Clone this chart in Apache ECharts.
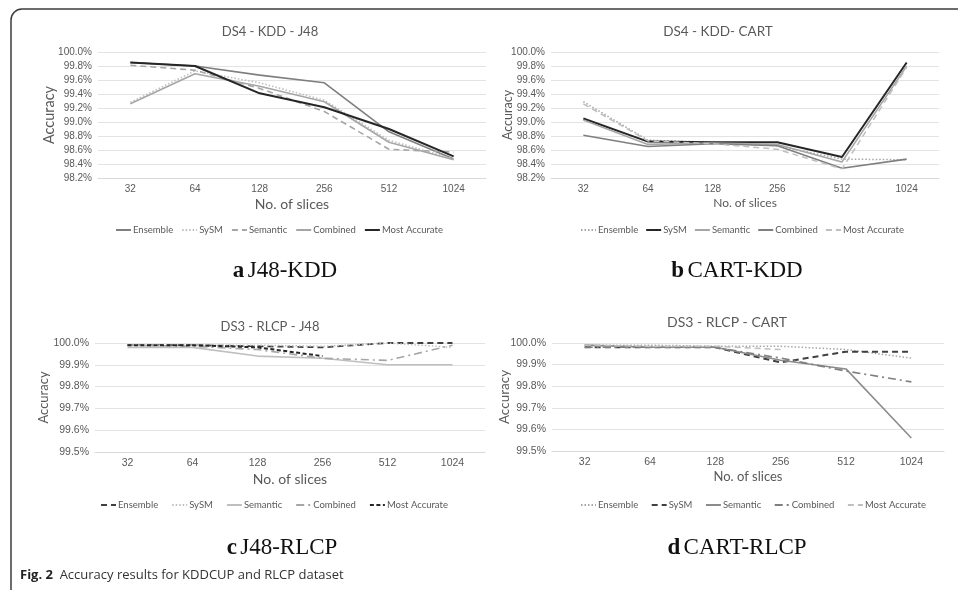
<!DOCTYPE html>
<html><head><meta charset="utf-8">
<script src="https://cdn.jsdelivr.net/npm/echarts@6/dist/echarts.min.js"></script>
<style>html,body{margin:0;padding:0;background:#fff}#c{width:958px;height:590px}</style>
</head><body><div id="c"></div>
<script>
// ---------- DATA ----------
const categories = ['32', '64', '128', '256', '512', '1024'];
const seriesNames = ['Ensemble', 'SySM', 'Semantic', 'Combined', 'Most Accurate'];

const kddTicks = [98.2, 98.4, 98.6, 98.8, 99.0, 99.2, 99.4, 99.6, 99.8, 100.0];
const rlcpTicks = [99.5, 99.6, 99.7, 99.8, 99.9, 100.0];

// (a) DS4 - KDD - J48
const kddJ48Ensemble     = [99.85, 99.80, 99.67, 99.56, 98.86, 98.47];
const kddJ48SySM         = [99.28, 99.73, 99.56, 99.31, 98.74, 98.47];
const kddJ48Semantic     = [99.81, 99.74, 99.48, 99.15, 98.61, 98.57];
const kddJ48Combined     = [99.26, 99.69, 99.51, 99.29, 98.71, 98.46];
const kddJ48MostAccurate = [99.85, 99.80, 99.41, 99.21, 98.90, 98.51];

// (b) DS4 - KDD- CART
const kddCartEnsemble     = [99.29, 98.74, 98.71, 98.66, 98.47, 98.46];
const kddCartSySM         = [99.05, 98.72, 98.71, 98.71, 98.50, 99.85];
const kddCartSemantic     = [99.03, 98.68, 98.70, 98.68, 98.43, 99.80];
const kddCartCombined     = [98.81, 98.65, 98.69, 98.66, 98.34, 98.47];
const kddCartMostAccurate = [99.26, 98.73, 98.69, 98.61, 98.33, 99.78];

// (c) DS3 - RLCP - J48  (Most Accurate has no values for 512 / 1024)
const rlcpJ48Ensemble     = [99.99, 99.99, 99.985, 99.98, 100.0, 100.0];
const rlcpJ48SySM         = [99.99, 99.99, 99.99, 99.985, 100.0, 99.98];
const rlcpJ48Semantic     = [99.98, 99.98, 99.94, 99.93, 99.90, 99.90];
const rlcpJ48Combined     = [99.99, 99.985, 99.97, 99.93, 99.92, 99.99];
const rlcpJ48MostAccurate = [99.99, 99.99, 99.98, 99.94, null, null];

// (d) DS3 - RLCP - CART  (Most Accurate has no values for 512 / 1024)
const rlcpCartEnsemble     = [99.99, 99.99, 99.985, 99.985, 99.97, 99.93];
const rlcpCartSySM         = [99.98, 99.98, 99.98, 99.91, 99.96, 99.96];
const rlcpCartSemantic     = [99.99, 99.98, 99.98, 99.92, 99.88, 99.56];
const rlcpCartCombined     = [99.98, 99.98, 99.98, 99.93, 99.87, 99.82];
const rlcpCartMostAccurate = [99.99, 99.985, 99.985, 99.97, null, null];

const panelTitles = ['DS4 - KDD - J48', 'DS4 - KDD- CART', 'DS3 - RLCP - J48', 'DS3 - RLCP - CART'];
const captionLetters = ['a', 'b', 'c', 'd'];
const captionTexts = ['J48-KDD', 'CART-KDD', 'J48-RLCP', 'CART-RLCP'];
const figLabel = 'Fig. 2';
const figText = 'Accuracy results for KDDCUP and RLCP dataset';
const yName = 'Accuracy';
const xName = 'No. of slices';

// ---------- LAYOUT / STYLE ----------
const panelData = [
  [kddJ48Ensemble, kddJ48SySM, kddJ48Semantic, kddJ48Combined, kddJ48MostAccurate],
  [kddCartEnsemble, kddCartSySM, kddCartSemantic, kddCartCombined, kddCartMostAccurate],
  [rlcpJ48Ensemble, rlcpJ48SySM, rlcpJ48Semantic, rlcpJ48Combined, rlcpJ48MostAccurate],
  [rlcpCartEnsemble, rlcpCartSySM, rlcpCartSemantic, rlcpCartCombined, rlcpCartMostAccurate]
];
const panelTicks = [kddTicks, kddTicks, rlcpTicks, rlcpTicks];

const DOT = [1.5, 2];
const DASH = [6, 4];
const SDASH = [4, 2.5];
const DASHDOT = [8, 4, 2, 4];
const panelStyles = [
  [ {c:'#7f7f7f', w:1.6, t:'solid'}, {c:'#bfbfbf', w:1.6, t:DOT}, {c:'#a6a6a6', w:1.6, t:DASH}, {c:'#a6a6a6', w:1.6, t:'solid'}, {c:'#262626', w:2, t:'solid'} ],
  [ {c:'#a6a6a6', w:1.5, t:DOT}, {c:'#262626', w:2, t:'solid'}, {c:'#a6a6a6', w:1.6, t:'solid'}, {c:'#7f7f7f', w:1.6, t:'solid'}, {c:'#bfbfbf', w:1.5, t:DASH} ],
  [ {c:'#404040', w:1.8, t:DASH}, {c:'#bfbfbf', w:1.5, t:DOT}, {c:'#bfbfbf', w:1.6, t:'solid'}, {c:'#a6a6a6', w:1.6, t:DASHDOT}, {c:'#262626', w:2, t:SDASH} ],
  [ {c:'#a6a6a6', w:1.5, t:DOT}, {c:'#404040', w:2, t:DASH}, {c:'#8c8c8c', w:1.6, t:'solid'}, {c:'#7f7f7f', w:1.6, t:DASHDOT}, {c:'#bfbfbf', w:1.5, t:DASH} ]
];

const grids = [
  {left: 98, top: 52, width: 388, height: 126},
  {left: 551, top: 52, width: 388, height: 126},
  {left: 95, top: 343, width: 390, height: 109},
  {left: 552, top: 343, width: 392, height: 108}
];
const tickFont = [10, 10, 10.5, 10.5];
const yNameFont = [14.5, 12.5, 13, 13.5];
const yNameGap = [41, 37, 45, 40];
const xNameFont = [14, 12, 14, 13];
const xNameGap = [19, 19, 20, 19];
const titlePos = [[270, 32, 13], [718, 32, 13.5], [270, 327, 13], [727, 322, 14]];
const legendPos = [[115, 225, 8], [580, 225, 7], [100, 500, 13], [580, 500, 12.5]];
const captionPos = [[285, 271], [737, 271], [282, 548], [737, 548]];

const ZW = '\u200b';
const GRAY = '#595959';

const series = [];
const legends = [];
panelData.forEach((arrs, p) => {
  const names = [];
  arrs.forEach((d, i) => {
    const st = panelStyles[p][i];
    const nm = seriesNames[i] + ZW.repeat(p);
    names.push(nm);
    series.push({
      type: 'line', name: nm, xAxisIndex: p, yAxisIndex: p, data: d,
      symbol: 'none', smooth: false, animation: false, z: 2 + i, connectNulls: false,
      lineStyle: {color: st.c, width: st.w, type: st.t, join: 'round'},
      itemStyle: {color: st.c}
    });
  });
  legends.push({
    data: names, left: legendPos[p][0], top: legendPos[p][1], itemGap: legendPos[p][2],
    itemWidth: 15, itemHeight: 8, padding: 0, selectedMode: false,
    itemStyle: {opacity: 0, borderWidth: 0},
    formatter: n => n.replace(/\u200b/g, ''),
    textStyle: {fontFamily: 'Lato', fontSize: 9.5, color: GRAY, padding: [0, 0, 0, -3]}
  });
});

const xAxes = grids.map((g, p) => ({
  type: 'category', gridIndex: p, data: categories, boundaryGap: true,
  axisTick: {show: false},
  axisLine: {show: true, lineStyle: {color: '#d9d9d9', width: 1}},
  axisLabel: {fontFamily: 'Liberation Sans', fontSize: tickFont[p], color: GRAY, margin: 6},
  name: xName, nameLocation: 'middle', nameGap: xNameGap[p], nameMoveOverlap: false,
  nameTextStyle: {fontFamily: 'Lato', fontSize: xNameFont[p], color: GRAY}
}));
const yAxes = grids.map((g, p) => {
  const t = panelTicks[p];
  return {
    type: 'value', gridIndex: p, min: t[0], max: t[t.length - 1],
    interval: Math.round((t[1] - t[0]) * 10) / 10,
    axisLine: {show: false}, axisTick: {show: false},
    splitLine: {show: true, lineStyle: {color: '#e3e3e3', width: 1}},
    axisLabel: {fontFamily: 'Liberation Sans', fontSize: tickFont[p], color: GRAY, margin: 6,
      formatter: v => v.toFixed(1) + '%'},
    name: yName, nameLocation: 'middle', nameGap: yNameGap[p], nameMoveOverlap: false,
    nameTextStyle: {fontFamily: 'Lato', fontSize: yNameFont[p], color: GRAY}
  };
});

const graphics = [
  {type: 'rect', shape: {x: 11, y: 9, width: 980, height: 620, r: [11, 0, 0, 0]},
   style: {fill: 'none', stroke: '#3c3c3c', lineWidth: 1.5}, z: 100, silent: true}
];
panelTitles.forEach((t, p) => {
  graphics.push({type: 'text', x: titlePos[p][0], y: titlePos[p][1], silent: true,
    style: {text: t, fill: GRAY, font: titlePos[p][2] + 'px Lato', align: 'center', verticalAlign: 'middle'}});
});
captionLetters.forEach((l, p) => {
  graphics.push({type: 'text', x: captionPos[p][0], y: captionPos[p][1], silent: true,
    style: {text: '{b|' + l + '} {n|' + captionTexts[p] + '}', align: 'center', verticalAlign: 'middle',
      rich: {
        b: {fontFamily: 'Liberation Serif', fontWeight: 'bold', fontSize: 23, fill: '#111'},
        n: {fontFamily: 'Liberation Serif', fontSize: 23, fill: '#111'}
      }}});
});
graphics.push({type: 'text', x: 20, y: 575, silent: true,
  style: {text: '{b|' + figLabel + '}  {n|' + figText + '}', align: 'left', verticalAlign: 'middle',
    rich: {
      b: {fontFamily: 'Open Sans', fontWeight: 'bold', fontSize: 13, fill: '#222'},
      n: {fontFamily: 'Open Sans', fontSize: 13, fill: '#333'}
    }}});

const chart = echarts.init(document.getElementById('c'), null, {renderer: 'canvas'});
chart.setOption({
  animation: false,
  backgroundColor: '#ffffff',
  grid: grids,
  xAxis: xAxes,
  yAxis: yAxes,
  legend: legends,
  series: series,
  graphic: graphics
});
</script></body></html>
